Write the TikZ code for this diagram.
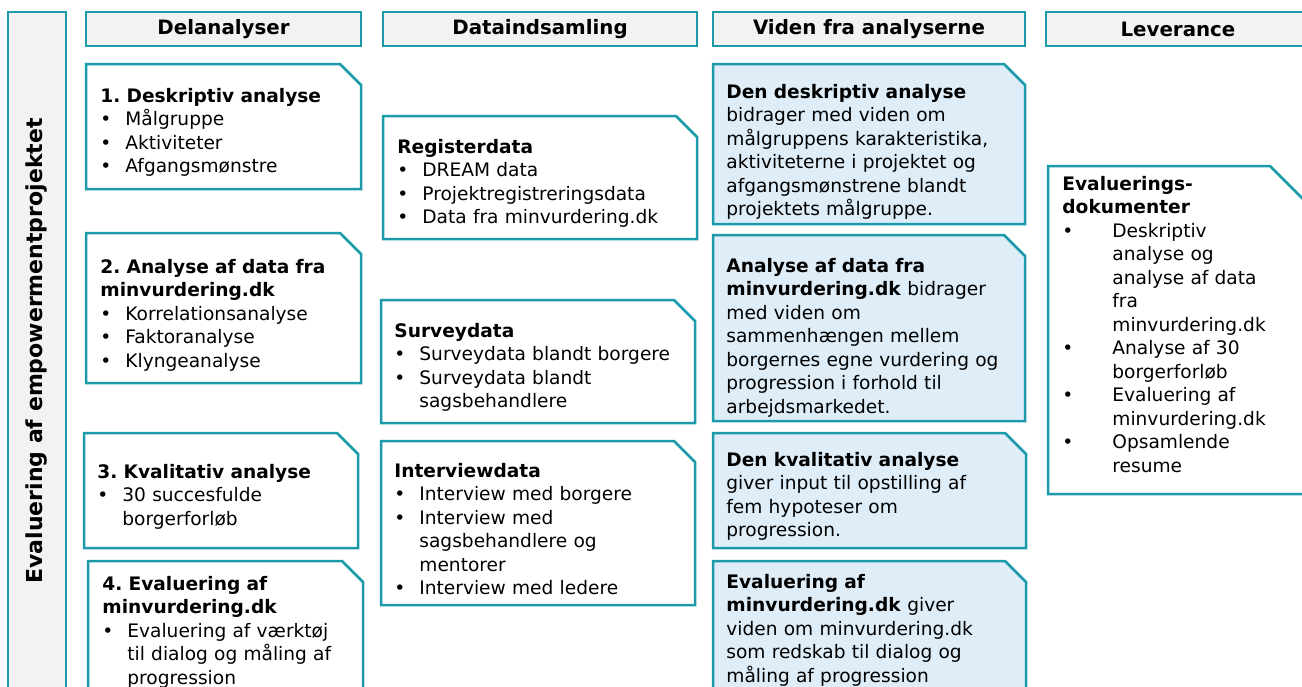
\documentclass[tikz,border=0pt]{standalone}
\usepackage{fontspec}
\setmainfont{DejaVu Sans}
\usepackage{xcolor}
\usepackage{tikz}
\usetikzlibrary{positioning}

\definecolor{rim}{HTML}{1B9AAA}
\definecolor{hdrgray}{HTML}{F2F2F2}
\definecolor{vidblue}{HTML}{DEEDF8}

\newcommand\fs{\fontsize{9.3}{11.75}\selectfont}
\newcommand\bul{\makebox[12.5pt][l]{\textbullet}}
\newcommand\ind{\hspace*{12.5pt}}
\newcommand\bulw{\makebox[25pt][l]{\textbullet}}
\newcommand\indw{\hspace*{25pt}}
% box with cut corner: [cut] x0 y0 x1 y1 fill
\newcommand\snip[6][21]{\draw[boxline, fill=#6] (#2,#3) -- (#4-#1,#3) -- (#4,#3+#1) -- (#4,#5) -- (#2,#5) -- cycle;}

\begin{document}
\frenchspacing
\begin{tikzpicture}[x=0.5pt, y=-0.5pt,
    boxline/.style={draw=rim, line width=1.25pt},
    hdr/.style={boxline, fill=hdrgray, inner sep=0pt, minimum height=17pt, font=\fontsize{9.9}{12}\selectfont\bfseries}]
            \useasboundingbox (0,0) rectangle (1302,686);

            % side bar and column headers
            \draw[boxline, fill=hdrgray] (8,12) rectangle (66,700);
            \node[rotate=90, font=\fontsize{11}{13}\selectfont\bfseries] (side) at (37,351) {Evaluering af empowermentprojektet};
            \node[hdr, minimum width=137.5pt] (hdel) at (223.5,29) {Delanalyser};
            \node[hdr, minimum width=157pt] (hdat) at (540,29) {Dataindsamling};
            \node[hdr, minimum width=156pt] (hvid) at (869,29) {Viden fra analyserne};
            \node[hdr, minimum width=132pt] (hlev) at (1178,29) {Leverance};

            % boxes
            \snip{86}{64}{361}{189}{white}
            \snip{86}{233}{361}{383}{white}
            \snip{84}{433}{358}{548}{white}
            \snip{88}{561}{363}{700}{white}
            \snip{383}{116}{697}{239}{white}
            \snip{381}{300}{695}{423}{white}
            \snip{381}{441}{695}{605}{white}
            \snip{713}{64}{1025}{224}{vidblue}
            \snip{713}{235}{1025}{421}{vidblue}
            \snip{713}{433}{1026}{548}{vidblue}
            \snip{713}{561}{1026}{700}{vidblue}
            \snip[42]{1048}{166}{1312}{494}{white}

            \begin{scope}[every node/.style={anchor=north west, inner sep=0pt, align=left,
                          text width=150pt, font=\fs, execute at begin node=\strut}]
                \node (del1) at (100,85.5) {\textbf{1. Deskriptiv analyse}\\
                    \bul Målgruppe\\
                    \bul Aktiviteter\\
                    \bul Afgangsmønstre};
                \node (del2) at (100,256.5) {\textbf{2. Analyse af data fra}\\
                    \textbf{minvurdering.dk}\\
                    \bul Korrelationsanalyse\\
                    \bul Faktoranalyse\\
                    \bul Klyngeanalyse};
                \node (del3) at (97,461.5) {\textbf{3. Kvalitativ analyse}\\
                    \bul 30 succesfulde\\
                    \ind borgerforløb};
                \node (del4) at (102,573.5) {\textbf{4. Evaluering af}\\
                    \textbf{minvurdering.dk}\\
                    \bul Evaluering af værktøj\\
                    \ind til dialog og måling af\\
                    \ind progression};

                \node (dat1) at (397,136.5) {\textbf{Registerdata}\\
                    \bul DREAM data\\
                    \bul Projektregistreringsdata\\
                    \bul Data fra minvurdering.dk};
                \node (dat2) at (394,320.5) {\textbf{Surveydata}\\
                    \bul Surveydata blandt borgere\\
                    \bul Surveydata blandt\\
                    \ind sagsbehandlere};
                \node (dat3) at (394,460.5) {\textbf{Interviewdata}\\
                    \bul Interview med borgere\\
                    \bul Interview med\\
                    \ind sagsbehandlere og\\
                    \ind mentorer\\
                    \bul Interview med ledere};

                \node (vid1) at (726,81.5) {\textbf{Den deskriptiv analyse}\\
                    bidrager med viden om\\
                    målgruppens karakteristika,\\
                    aktiviteterne i projektet og\\
                    afgangsmønstrene blandt\\
                    projektets målgruppe.};
                \node (vid2) at (726,255.5) {\textbf{Analyse af data fra}\\
                    \textbf{minvurdering.dk} bidrager\\
                    med viden om\\
                    sammenhængen mellem\\
                    borgernes egne vurdering og\\
                    progression i forhold til\\
                    arbejdsmarkedet.};
                \node (vid3) at (726,449.5) {\textbf{Den kvalitativ analyse}\\
                    giver input til opstilling af\\
                    fem hypoteser om\\
                    progression.};
                \node (vid4) at (726,571.5) {\textbf{Evaluering af}\\
                    \textbf{minvurdering.dk} giver\\
                    viden om minvurdering.dk\\
                    som redskab til dialog og\\
                    måling af progression};

                \node (lev) at (1062,173.5) {\textbf{Evaluerings-}\\
                    \textbf{dokumenter}\\
                    \bulw Deskriptiv\\
                    \indw analyse og\\
                    \indw analyse af data\\
                    \indw fra\\
                    \indw minvurdering.dk\\
                    \bulw Analyse af 30\\
                    \indw borgerforløb\\
                    \bulw Evaluering af\\
                    \indw minvurdering.dk\\
                    \bulw Opsamlende\\
                    \indw resume};
            \end{scope}
        \end{tikzpicture}
\end{document}
